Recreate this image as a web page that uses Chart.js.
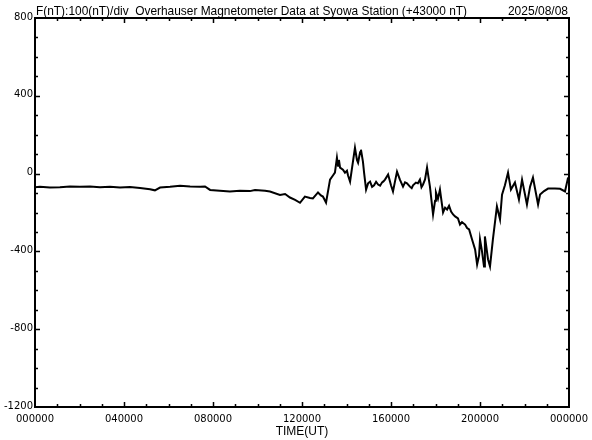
<!DOCTYPE html>
<html>
<head>
<meta charset="utf-8">
<script src="https://cdn.jsdelivr.net/npm/chart.js@4/dist/chart.umd.min.js"></script>
<style>
html,body{margin:0;padding:0;background:#fff;}
#wrap{width:592px;height:440px;}
</style>
</head>
<body>
<div id="wrap"><canvas id="c" width="592" height="440"></canvas></div>
<script>
// Time in hours (UT) and total field deviation F (nT, relative to 43000 nT)
const hours = [0,0.22,0.67,1.12,1.57,2.02,2.47,2.92,3.37,3.82,4.27,4.72,5.17,5.39,5.62,6.07,6.52,6.97,7.42,7.64,7.87,8.31,8.76,9.21,9.66,9.89,10.34,10.56,11.01,11.24,11.46,11.69,11.91,12.13,12.36,12.49,12.72,12.85,12.94,13.08,13.26,13.39,13.48,13.57,13.62,13.66,13.71,13.84,13.93,14.02,14.07,14.16,14.29,14.38,14.47,14.52,14.61,14.65,14.74,14.79,14.88,14.97,15.06,15.15,15.24,15.33,15.42,15.51,15.60,15.66,15.73,15.87,16.00,16.09,16.18,16.27,16.40,16.54,16.63,16.72,16.85,16.93,16.99,17.12,17.21,17.30,17.37,17.44,17.53,17.62,17.75,17.89,17.98,18.02,18.11,18.20,18.34,18.43,18.52,18.61,18.70,18.79,18.88,19.01,19.10,19.19,19.33,19.42,19.51,19.64,19.78,19.87,19.96,20.00,20.09,20.18,20.22,20.36,20.45,20.58,20.76,20.90,20.99,21.12,21.26,21.39,21.57,21.75,21.89,22.11,22.25,22.38,22.61,22.70,22.88,23.06,23.37,23.60,23.82,23.96];
const fValues = [-70,-68,-72,-70,-66,-68,-66,-70,-67,-72,-69,-74,-80,-86,-72,-68,-62,-66,-68,-66,-84,-88,-92,-88,-90,-84,-88,-92,-110,-105,-123,-135,-150,-118,-125,-128,-97,-112,-118,-149,-31,-10,5,82,40,70,31,20,5,15,-10,-41,62,133,70,56,110,123,60,5,-82,-50,-41,-68,-60,-42,-56,-62,-45,-40,-31,-5,-60,-92,-40,10,-31,-67,-45,-50,-67,-75,-60,-46,-50,-31,-70,-56,-30,31,-67,-210,-140,-97,-130,-82,-200,-175,-185,-165,-195,-210,-220,-230,-262,-250,-262,-280,-287,-338,-390,-467,-420,-338,-400,-477,-323,-440,-477,-338,-169,-236,-108,-60,5,-82,-46,-133,-31,-159,-67,-20,-159,-108,-90,-77,-77,-78,-92,-20];

const xTickValues = [0,4,8,12,16,20,24];
const xTickLabels = ['000000','040000','080000','120000','160000','200000','000000'];
const yTickValues = [800,400,0,-400,-800,-1200];
const yTickLabels = ['800','400','0','-400','-800','-1200'];
const titleText = 'F(nT):100(nT)/div  Overhauser Magnetometer Data at Syowa Station (+43000 nT)';
const dateText = '2025/08/08';
const xAxisTitle = 'TIME(UT)';

const framePlugin = {
  id: 'frame',
  afterDraw(chart) {
    const ctx = chart.ctx;
    const xs = chart.scales.x, ys = chart.scales.y;
    const L = xs.getPixelForValue(0), R = xs.getPixelForValue(24);
    const T = ys.getPixelForValue(800), B = ys.getPixelForValue(-1200);
    ctx.save();
    ctx.strokeStyle = '#000';
    ctx.lineWidth = 2;
    ctx.strokeRect(L, T, R - L, B - T);
    ctx.lineWidth = 1.5;
    ctx.beginPath();
    for (let h = 1; h < 24; h++) {
      const px = Math.round(xs.getPixelForValue(h)) + 0.5;
      const len = (h % 4 === 0) ? 5 : 3;
      ctx.moveTo(px, B); ctx.lineTo(px, B - len);
      ctx.moveTo(px, T); ctx.lineTo(px, T + len);
    }
    for (let v = -1100; v < 800; v += 100) {
      const py = Math.round(ys.getPixelForValue(v)) + 0.5;
      const len = (v % 400 === 0) ? 5 : 3;
      ctx.moveTo(L, py); ctx.lineTo(L + len, py);
      ctx.moveTo(R, py); ctx.lineTo(R - len, py);
    }
    ctx.stroke();

    ctx.fillStyle = '#000';
    ctx.font = '10px "DejaVu Sans"';
    ctx.textBaseline = 'middle';
    ctx.textAlign = 'right';
    yTickValues.forEach((v, i) => {
      ctx.fillText(yTickLabels[i], L - 2, ys.getPixelForValue(v) - 1);
    });
    ctx.textAlign = 'center';
    xTickValues.forEach((v, i) => {
      ctx.fillText(xTickLabels[i], xs.getPixelForValue(v), B + 12);
    });
    ctx.font = '12px "Liberation Sans"';
    ctx.fillText(xAxisTitle, (L + R) / 2, B + 25);

    ctx.textAlign = 'left';
    ctx.textBaseline = 'alphabetic';
    ctx.font = '13px "Liberation Sans"';
    const w = ctx.measureText(titleText).width;
    const target = 431;
    ctx.save();
    ctx.translate(L + 1, T - 3);
    ctx.scale(target / w, 1);
    ctx.fillText(titleText, 0, 0);
    ctx.restore();
    ctx.font = '12px "Liberation Sans"';
    ctx.textAlign = 'right';
    ctx.fillText(dateText, R - 1, T - 3);
    ctx.restore();
  }
};

new Chart(document.getElementById('c'), {
  type: 'line',
  data: {
    datasets: [{
      data: hours.map((h, i) => ({ x: h, y: fValues[i] })),
      borderColor: '#000',
      borderWidth: 2,
      pointRadius: 0,
      tension: 0,
      fill: false
    }]
  },
  options: {
    responsive: false,
    animation: false,
    layout: { padding: { left: 35, right: 23, top: 18, bottom: 33 } },
    plugins: { legend: { display: false }, tooltip: { enabled: false }, title: { display: false } },
    scales: {
      x: { type: 'linear', min: 0, max: 24, display: false },
      y: { type: 'linear', min: -1200, max: 800, display: false }
    }
  },
  plugins: [framePlugin]
});
</script>
</body>
</html>
